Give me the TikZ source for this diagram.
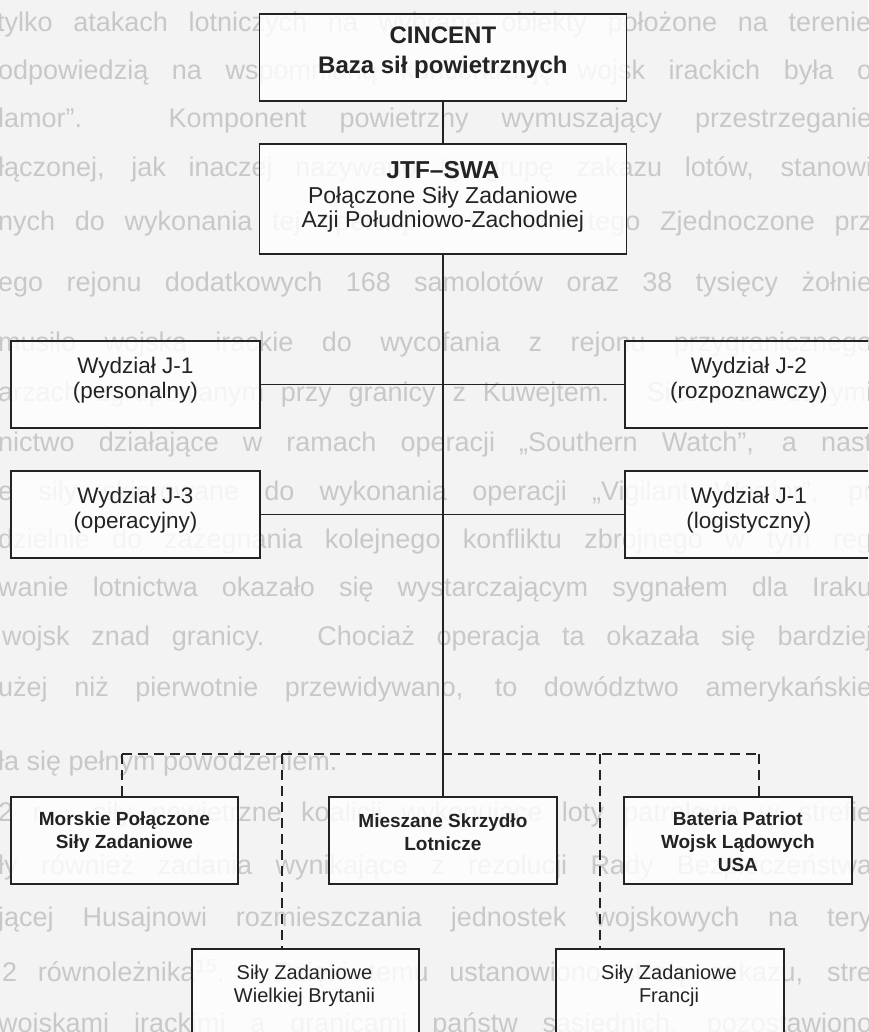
\documentclass[tikz,border=0pt]{standalone}
\usepackage{fontspec}
\setmainfont{Liberation Sans}
\usetikzlibrary{calc}
\definecolor{pagebg}{RGB}{243,243,243}
\definecolor{ghosttext}{RGB}{200,200,200}
\definecolor{ink}{RGB}{35,35,35}
\begin{document}
\begin{tikzpicture}[x=1pt, y=-1pt,
  ghost/.style={anchor=west, inner sep=0pt, text=ghosttext, font=\fontsize{27}{27}\selectfont},
  unit/.style={draw=ink, line width=1.8pt, fill=white, fill opacity=0.8, inner sep=0pt, anchor=north west},
  boxlabel/.style={align=center, inner sep=0pt, text=ink},
  headfont/.style={font=\bfseries\fontsize{24}{30}\selectfont},
  deptfont/.style={font=\fontsize{22.5}{24.5}\selectfont},
  lowbold/.style={font=\bfseries\fontsize{19}{23}\selectfont},
  lowreg/.style={font=\fontsize{20}{22.5}\selectfont},
  wire/.style={draw=ink, line width=1.8pt},
  bus/.style={draw=ink, line width=2pt, dash pattern=on 10pt off 6pt}
]
\fill[pagebg] (0,0) rectangle (868,1032);
\useasboundingbox (0,0) rectangle (868,1032);
\begin{scope}
\clip (0,0) rectangle (868,1032);

% running text of the page underneath the chart
\node[ghost] (g00) at (-3,25)   {\makebox[874pt][s]{tylko atakach lotniczych na wybrane obiekty położone na terenie}};
\node[ghost] (g01) at (-2,73)   {\makebox[874pt][s]{odpowiedzią na wspomnianą koncentrację wojsk irackich była o}};
\node[ghost] (g02) at (-2,121)  {\makebox[874pt][s]{lamor”. Komponent powietrzny wymuszający przestrzeganie}};
\node[ghost] (g03) at (-2,169)  {\makebox[874pt][s]{łączonej, jak inaczej nazywano tę grupę zakazu lotów, stanowi}};
\node[ghost] (g04) at (-2,224)  {\makebox[874pt][s]{nych do wykonania tej operacji. Pomimo tego Zjednoczone prz}};
\node[ghost] (g05) at (-2,284)  {\makebox[874pt][s]{ego rejonu dodatkowych 168 samolotów oraz 38 tysięcy żołnie}};
\node[ghost] (g06) at (-2,345)  {\makebox[874pt][s]{musiło wojska irackie do wycofania z rejonu przygranicznego}};
\node[ghost] (g07) at (-2,395)  {\makebox[874pt][s]{arzach zgrupowanym przy granicy z Kuwejtem. Siłami tworzącymi}};
\node[ghost] (g08) at (-2,445)  {\makebox[874pt][s]{nictwo działające w ramach operacji „Southern Watch”, a nast}};
\node[ghost] (g09) at (-2,494)  {\makebox[874pt][s]{e siły skierowane do wykonania operacji „Vigilant Warrior”, pr}};
\node[ghost] (g10) at (-2,542)  {\makebox[874pt][s]{dzielnie do zażegnania kolejnego konfliktu zbrojnego w tym reg}};
\node[ghost] (g11) at (-2,590)  {\makebox[874pt][s]{wanie lotnictwa okazało się wystarczającym sygnałem dla Iraku}};
\node[ghost] (g12) at (2,639)   {\makebox[870pt][s]{wojsk znad granicy. Chociaż operacja ta okazała się bardziej}};
\node[ghost] (g13) at (-2,689)  {\makebox[874pt][s]{użej niż pierwotnie przewidywano, to dowództwo amerykańskie}};
\node[ghost] (g14) at (-2,764)  {ła się pełnym powodzeniem.};
\node[ghost] (g15) at (-2,815)  {\makebox[874pt][s]{2 r. siły powietrzne koalicji wykonujące loty patrolowe w strefie}};
\node[ghost] (g16) at (-2,867)  {\makebox[874pt][s]{ły również zadania wynikające z rezolucji Rady Bezpieczeństwa}};
\node[ghost] (g17) at (-2,920)  {\makebox[874pt][s]{jącej Husajnowi rozmieszczania jednostek wojskowych na tery}};
\node[ghost] (g18) at (2,973)   {\makebox[870pt][s]{2 równoleżnika\textsuperscript{15}. Dzięki temu ustanowiono strefę zakazu, stre}};
\node[ghost] (g19) at (-2,1025) {\makebox[874pt][s]{wojskami irackimi a granicami państw sąsiednich, pozostawiono}};

% command chain
\node[unit, minimum width=367pt, minimum height=87pt]  (cincent) at (258.5,13) {};
\node[unit, minimum width=367pt, minimum height=110pt] (jtf)     at (258.5,143) {};

% staff divisions
\node[unit, minimum width=249pt, minimum height=87pt] (j1) at (10,340)  {};
\node[unit, minimum width=248pt, minimum height=87pt] (j2) at (624,340) {};
\node[unit, minimum width=249pt, minimum height=87pt] (j3) at (10,470)  {};
\node[unit, minimum width=248pt, minimum height=87pt] (j4) at (624,470) {};

% subordinate forces
\node[unit, minimum width=227pt, minimum height=87pt]  (morskie)  at (10,796)  {};
\node[unit, minimum width=228pt, minimum height=87pt]  (mieszane) at (328,796) {};
\node[unit, minimum width=228pt, minimum height=87pt]  (patriot)  at (623,796) {};
\node[unit, minimum width=227pt, minimum height=120pt] (wb)       at (191,948) {};
\node[unit, minimum width=228pt, minimum height=120pt] (fr)       at (555,948) {};

% captions
\node[boxlabel, headfont] (cincent-t) at ([yshift=4.5pt]cincent.center) {CINCENT\\Baza sił powietrznych};
\node[boxlabel, font=\fontsize{23}{24.5}\selectfont] (jtf-t) at ([yshift=2pt]jtf.center)
  {{\bfseries\fontsize{24.5}{24.5}\selectfont JTF–SWA}\\Połączone Siły Zadaniowe\\Azji Południowo-Zachodniej};
\node[boxlabel, deptfont] (j1-t) at ([yshift=4pt]j1.center) {Wydział J-1\\(personalny)};
\node[boxlabel, deptfont] (j2-t) at ([yshift=4pt]j2.center) {Wydział J-2\\(rozpoznawczy)};
\node[boxlabel, deptfont] (j3-t) at ([yshift=4pt]j3.center) {Wydział J-3\\(operacyjny)};
\node[boxlabel, deptfont] (j4-t) at ([yshift=4pt]j4.center) {Wydział J-1\\(logistyczny)};
\node[boxlabel, lowbold] (morskie-t)  at ([yshift=8pt]morskie.center)  {Morskie Połączone\\Siły Zadaniowe};
\node[boxlabel, lowbold] (mieszane-t) at ([yshift=8pt]mieszane.center) {Mieszane Skrzydło\\Lotnicze};
\node[boxlabel, lowbold] (patriot-t)  at ([yshift=-1.5pt]patriot.center) {Bateria Patriot\\Wojsk Lądowych\\USA};
\node[boxlabel, lowreg] (wb-t) at (304.5,986) {Siły Zadaniowe\\Wielkiej Brytanii};
\node[boxlabel, lowreg] (fr-t) at (669,986)   {Siły Zadaniowe\\Francji};

% solid lines of command
\draw[wire] (cincent.south) -- (jtf.north);
\draw[wire] (jtf.south) -- (mieszane.north);
\draw[wire] (j1.east) -- (j2.west);
\draw[wire] (j3.east) -- (j4.west);

% dashed lines of the attached forces
\coordinate (bus-a) at (122,754);
\coordinate (bus-b) at (282,754);
\coordinate (bus-c) at (600,754);
\coordinate (bus-d) at (759,754);
\draw[bus] (bus-a) -- (bus-d);
\draw[bus] (bus-a) -- (bus-a |- morskie.north);
\draw[bus] (bus-b) -- (bus-b |- wb.north);
\draw[bus] (bus-c) -- (bus-c |- fr.north);
\draw[bus] (bus-d) -- (bus-d |- patriot.north);
\end{scope}
\end{tikzpicture}
\end{document}
